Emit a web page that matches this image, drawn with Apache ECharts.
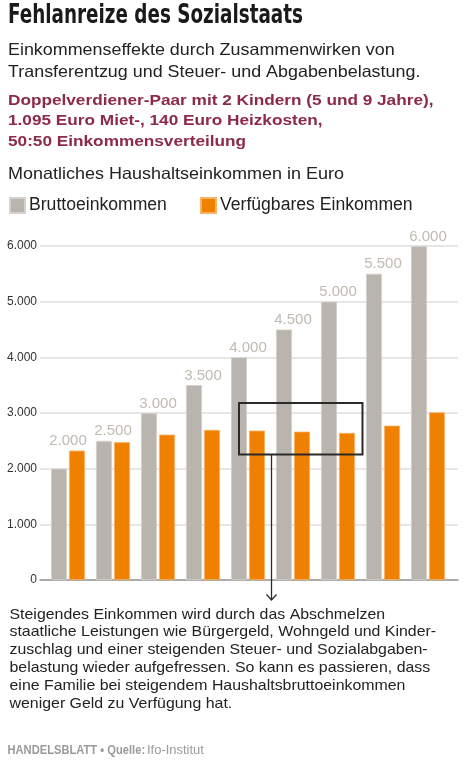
<!DOCTYPE html>
<html><head><meta charset="utf-8">
<script src="https://cdn.jsdelivr.net/npm/echarts@6/dist/echarts.min.js"></script>
<style>html,body{margin:0;padding:0;background:#fff}#c{width:467px;height:761px}</style>
</head><body><div id="c"></div>
<script>
const categories = ['2000','2500','3000','3500','4000','4500','5000','5500','6000'];
const brutto = [2000, 2500, 3000, 3500, 4000, 4500, 5000, 5500, 6000];
const verfuegbar = [2325, 2475, 2612, 2696, 2684, 2666, 2642, 2773, 3012];
const yTicks = [0, 1000, 2000, 3000, 4000, 5000, 6000];
const labelTops = brutto.map((v, i) => Math.max(v, verfuegbar[i]));

const titleText = 'Fehlanreize des Sozialstaats';
const subtitleText = 'Einkommenseffekte durch Zusammenwirken von\nTransferentzug und Steuer- und Abgabenbelastung.';
const highlightText = 'Doppelverdiener-Paar mit 2 Kindern (5 und 9 Jahre),\n1.095 Euro Miet-, 140 Euro Heizkosten,\n50:50 Einkommensverteilung';
const axisTitleText = 'Monatliches Haushaltseinkommen in Euro';
const noteText = 'Steigendes Einkommen wird durch das Abschmelzen\nstaatliche Leistungen wie Bürgergeld, Wohngeld und Kinder-\nzuschlag und einer steigenden Steuer- und Sozialabgaben-\nbelastung wieder aufgefressen. So kann es passieren, dass\neine Familie bei steigendem Haushaltsbruttoeinkommen\nweniger Geld zu Verfügung hat.';
const sourceBold = 'HANDELSBLATT • Quelle:';
const sourceText = 'Ifo-Institut';

const fmt = v => v === 0 ? '0' : (Math.floor(v / 1000) + '.' + String(v % 1000).padStart(3, '0'));
const FAM = "'Liberation Sans', Arial, sans-serif";
const GRAY = '#bab4ae', ORANGE = '#f08000';

function txt(text, x, y, font, fill, lineHeight, scaleX) {
  return {type: 'text', x: x, y: y, scaleX: scaleX || 1, silent: true,
    style: {text: text, font: font, fill: fill, lineHeight: lineHeight, textVerticalAlign: 'top', textAlign: 'left'}};
}

const chart = echarts.init(document.getElementById('c'), null, {renderer: 'canvas'});
chart.setOption({
  animation: false,
  backgroundColor: '#fff',
  legend: [
    {data: ['Bruttoeinkommen'], left: 9, top: 196.5, icon: 'rect', itemWidth: 15, itemHeight: 15, itemGap: 0, padding: 0,
     textStyle: {fontFamily: FAM, fontSize: 17.6, color: '#222', padding: [0, 0, 0, -1]}},
    {data: ['Verfügbares Einkommen'], left: 200, top: 196.5, icon: 'rect', itemWidth: 15, itemHeight: 15, itemGap: 0, padding: 0,
     textStyle: {fontFamily: FAM, fontSize: 17.6, color: '#222', padding: [0, 0, 0, -1]}}
  ],
  grid: [
    {left: 40, right: 9, top: 246, bottom: 181},
    {left: 45.5, right: 16.5, top: 246, bottom: 181}
  ],
  xAxis: [
    {type: 'category', gridIndex: 0, data: categories, axisLabel: {show: false}, axisTick: {show: false},
     axisLine: {show: true, lineStyle: {color: '#999', width: 1.5}}},
    {type: 'category', gridIndex: 1, data: categories, axisLabel: {show: false}, axisTick: {show: false},
     axisLine: {show: false}}
  ],
  yAxis: [
    {type: 'value', gridIndex: 0, min: yTicks[0], max: yTicks[yTicks.length - 1], interval: 1000,
     axisLine: {show: false}, axisTick: {show: false},
     axisLabel: {margin: 3, fontFamily: FAM, fontSize: 12, color: '#333', formatter: v => fmt(v)},
     splitLine: {lineStyle: {color: '#dedede', width: 1.5}}},
    {type: 'value', gridIndex: 1, min: yTicks[0], max: yTicks[yTicks.length - 1], interval: 1000,
     axisLine: {show: false}, axisTick: {show: false}, axisLabel: {show: false}, splitLine: {show: false}}
  ],
  series: [
    {name: 'Bruttoeinkommen', type: 'bar', xAxisIndex: 1, yAxisIndex: 1, data: brutto,
     barWidth: 16, barGap: '12.5%', itemStyle: {color: GRAY, borderColor: '#d6d1cc', borderWidth: 0.8}},
    {name: 'Verfügbares Einkommen', type: 'bar', xAxisIndex: 1, yAxisIndex: 1, data: verfuegbar,
     barWidth: 16, barGap: '12.5%', itemStyle: {color: ORANGE, borderColor: '#f6b36a', borderWidth: 0.8}},
    {name: 'labels', type: 'scatter', xAxisIndex: 1, yAxisIndex: 1, data: labelTops, symbolSize: 0,
     silent: true, z: 5,
     label: {show: true, position: 'top', distance: 2, fontFamily: FAM, fontSize: 15, color: '#b2a99f',
       formatter: p => fmt(brutto[p.dataIndex])}}
  ],
  graphic: [
    txt(titleText, 8, 1, "bold 26px 'Liberation Sans Narrow', 'DejaVu Sans Condensed', sans-serif", '#1a1a1a', 30, 0.785),
    txt(subtitleText, 8, 39, "16.5px " + FAM, '#222', 22, 1.085),
    txt(highlightText, 8, 90, "bold 15.5px " + FAM, '#8c2a47', 20.5, 1.11),
    txt(axisTitleText, 8, 163, "16.5px " + FAM, '#222', 22, 1.09),
    txt(noteText, 9.5, 605.5, "15px " + FAM, '#222', 17.8, 1.06),
    txt(sourceBold, 7.5, 744, "bold 12px " + FAM, '#9a9a9a', 14, 0.93),
    txt(sourceText, 147, 744, "12px " + FAM, '#9a9a9a', 14, 1.08),
    {type: 'rect', shape: {x: 239, y: 403, width: 123.5, height: 51.5},
     style: {fill: 'none', stroke: '#2a2a2a', lineWidth: 2}, z: 10},
    {type: 'line', shape: {x1: 271.5, y1: 455, x2: 271.5, y2: 600},
     style: {stroke: '#2a2a2a', lineWidth: 1.3}, z: 10},
    {type: 'polyline', shape: {points: [[266.5, 594.5], [271.5, 600], [276.5, 594.5]]},
     style: {fill: 'none', stroke: '#2a2a2a', lineWidth: 1.3}, z: 10}
  ]
});
</script></body></html>
